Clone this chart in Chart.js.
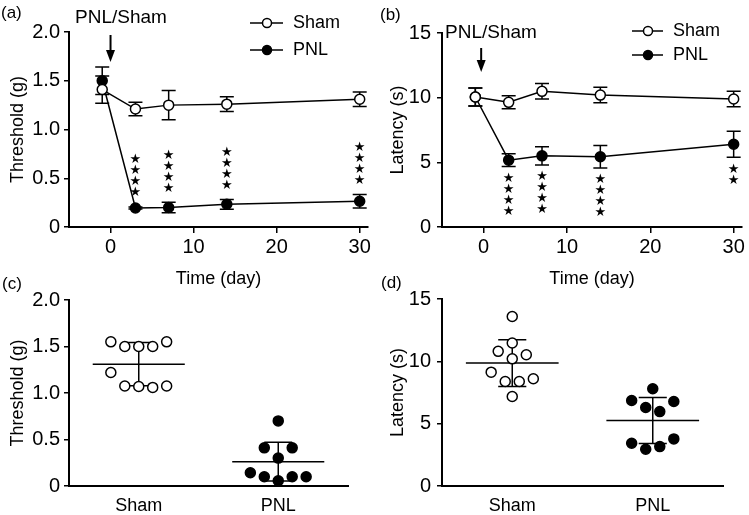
<!DOCTYPE html>
<html>
<head>
<meta charset="utf-8">
<script src="https://cdn.jsdelivr.net/npm/chart.js@4.4.1/dist/chart.umd.min.js"></script>
<style>
  body { margin: 0; background: #fff; width: 749px; height: 515px; position: relative; overflow: hidden; }
  canvas { position: absolute; }
</style>
</head>
<body>
<canvas id="chartA" style="left:0;top:0" width="375" height="290"></canvas>
<canvas id="chartB" style="left:375px;top:0" width="374" height="290"></canvas>
<canvas id="chartC" style="left:0;top:260px" width="375" height="255"></canvas>
<canvas id="chartD" style="left:375px;top:260px" width="374" height="255"></canvas>
<script>
// time course (a, b)
const days = [-1, 3, 7, 14, 30];
const dayTicks = [0, 10, 20, 30];
const thrSham = [1.41, 1.21, 1.25, 1.26, 1.31];
const thrShamErr = [0.14, 0.07, 0.15, 0.075, 0.074];
const thrPnl = [1.50, 0.195, 0.20, 0.233, 0.264];
const thrPnlErr = [0.14, 0.01, 0.055, 0.05, 0.07];
const thrStars = ['', '****', '****', '****', '****'];
const latSham = [10.05, 9.64, 10.49, 10.2, 9.9];
const latShamErr = [0.7, 0.5, 0.6, 0.6, 0.6];
const latPnl = [10.05, 5.17, 5.5, 5.43, 6.4];
const latPnlErr = [0.7, 0.5, 0.7, 0.87, 1.0];
const latStars = ['', '****', '****', '****', '**'];

// individual animals (c, d)
const groups = ['Sham', 'PNL'];
const cThrSham = [1.55, 1.50, 1.50, 1.50, 1.55, 1.22, 1.075, 1.07, 1.06, 1.075];
const cThrShamX = [-0.2, -0.1, 0, 0.1, 0.2, -0.2, -0.1, 0, 0.1, 0.2];
const cThrPnl = [0.70, 0.41, 0.30, 0.41, 0.143, 0.10, 0.057, 0.10, 0.10];
const cThrPnlX = [0, -0.1, 0, 0.1, -0.2, -0.1, 0, 0.1, 0.2];
const cThrMean = [1.31, 0.262];
const cThrSd = [0.233, 0.208];
const cLatSham = [13.6, 11.47, 10.8, 10.53, 10.2, 9.13, 8.38, 8.38, 8.6, 7.18];
const cLatShamX = [0, 0, -0.1, 0.1, 0, -0.15, -0.05, 0.05, 0.15, 0];
const cLatPnl = [7.8, 6.86, 6.78, 6.3, 5.97, 3.43, 3.78, 2.95, 3.16];
const cLatPnlX = [0, -0.15, 0.15, -0.05, 0.05, -0.15, 0.15, -0.05, 0.05];
const cLatMean = [9.86, 5.25];
const cLatSd = [1.88, 1.85];

const FONT = 'Liberation Sans, Arial, Helvetica, sans-serif';
Chart.defaults.font.family = FONT;
Chart.defaults.color = '#000';

const extrasPlugin = {
  id: 'extras',
  beforeDatasetsDraw(chart, args, o) {
    const { ctx, scales: { x, y } } = chart;
    ctx.save();
    ctx.strokeStyle = '#000';
    ctx.lineWidth = 1.5;
    (o.errors || []).forEach(e => {
      days.forEach((d, i) => {
        const px = x.getPixelForValue(d);
        const top = y.getPixelForValue(e.ys[i] + e.err[i]);
        const bot = y.getPixelForValue(e.ys[i] - e.err[i]);
        ctx.beginPath();
        ctx.moveTo(px, top); ctx.lineTo(px, bot);
        ctx.moveTo(px - 7, top); ctx.lineTo(px + 7, top);
        ctx.moveTo(px - 7, bot); ctx.lineTo(px + 7, bot);
        ctx.stroke();
      });
    });
    if (o.means) {
      o.means.forEach((m, g) => {
        const sd = o.sds[g];
        const yM = y.getPixelForValue(m);
        const yT = y.getPixelForValue(m + sd);
        const yB = y.getPixelForValue(m - sd);
        const px = x.getPixelForValue(g);
        ctx.beginPath();
        ctx.moveTo(x.getPixelForValue(g - 0.33), yM); ctx.lineTo(x.getPixelForValue(g + 0.33), yM);
        ctx.moveTo(px, yT); ctx.lineTo(px, yB);
        ctx.moveTo(x.getPixelForValue(g - 0.1), yT); ctx.lineTo(x.getPixelForValue(g + 0.1), yT);
        ctx.moveTo(x.getPixelForValue(g - 0.1), yB); ctx.lineTo(x.getPixelForValue(g + 0.1), yB);
        ctx.stroke();
      });
    }
    ctx.restore();
  },
  afterDraw(chart, args, o) {
    const { ctx, scales: { x, y } } = chart;
    ctx.save();
    ctx.fillStyle = '#000';
    ctx.strokeStyle = '#000';
    // panel letter
    ctx.font = '17px ' + FONT;
    ctx.textAlign = 'left';
    ctx.textBaseline = 'middle';
    ctx.fillText(o.panel.text, o.panel.x, o.panel.y);
    // arrow + label
    if (o.arrow) {
      const ax = x.getPixelForValue(o.arrow.day);
      ctx.lineWidth = 2;
      ctx.beginPath();
      ctx.moveTo(ax, o.arrow.y1); ctx.lineTo(ax, o.arrow.y2 - 8);
      ctx.stroke();
      ctx.beginPath();
      ctx.moveTo(ax - 4.5, o.arrow.y2 - 12);
      ctx.lineTo(ax + 4.5, o.arrow.y2 - 12);
      ctx.lineTo(ax, o.arrow.y2);
      ctx.closePath();
      ctx.fill();
      ctx.font = '19px ' + FONT;
      ctx.textAlign = 'center';
      ctx.fillText('PNL/Sham', o.arrow.tx, o.arrow.ty);
    }
    // significance stars
    if (o.stars) {
      ctx.font = '13px DejaVu Sans';
      ctx.textAlign = 'center';
      days.forEach((d, i) => {
        const n = o.stars.marks[i].length;
        if (!n) return;
        const px = x.getPixelForValue(d);
        const v = o.stars.ys[i];
        const e = o.stars.err[i];
        for (let k = 0; k < n; k++) {
          let py;
          if (o.stars.above) py = y.getPixelForValue(v + e) - 14 - k * 11;
          else py = y.getPixelForValue(v - e) + 12 + k * 11;
          ctx.fillText('\u2605', px, py);
        }
      });
    }
    // legend
    if (o.legend) {
      const L = o.legend;
      ctx.font = '18px ' + FONT;
      ctx.textAlign = 'left';
      L.items.forEach(it => {
        ctx.lineWidth = 1.5;
        ctx.beginPath();
        ctx.moveTo(L.x1, it.y); ctx.lineTo(L.x2, it.y);
        ctx.stroke();
        ctx.beginPath();
        ctx.arc(L.xm, it.y, 4.5, 0, Math.PI * 2);
        ctx.fillStyle = it.fill;
        ctx.fill();
        ctx.stroke();
        ctx.fillStyle = '#000';
        ctx.fillText(it.label, L.xt, it.y);
      });
    }
    ctx.restore();
  }
};

function axisStyle(extra) {
  return Object.assign({
    grid: { display: true, drawOnChartArea: false, drawTicks: true, tickLength: 6, color: '#000', lineWidth: 1.5 },
    border: { display: true, color: '#000', width: 2 }
  }, extra);
}

function timeChart(id, cfg) {
  return new Chart(document.getElementById(id), {
    type: 'line',
    data: {
      datasets: [
        {
          label: 'Sham',
          data: days.map((d, i) => ({ x: d, y: cfg.sham[i] })),
          borderColor: '#000', borderWidth: 1.5, tension: 0,
          pointRadius: 5, pointBackgroundColor: '#fff', pointBorderColor: '#000', pointBorderWidth: 1.5
        },
        {
          label: 'PNL',
          data: days.map((d, i) => ({ x: d, y: cfg.pnl[i] })),
          borderColor: '#000', borderWidth: 1.5, tension: 0,
          pointRadius: 5, pointBackgroundColor: '#000', pointBorderColor: '#000', pointBorderWidth: 1.5
        }
      ]
    },
    options: {
      responsive: false,
      animation: false,
      events: [],
      layout: { padding: { top: cfg.top, right: cfg.right, left: 0, bottom: 0 } },
      scales: {
        x: axisStyle({
          type: 'linear', min: -5, max: 31,
          afterBuildTicks: a => { a.ticks = dayTicks.map(v => ({ value: v })); },
          afterFit: s => { s.height = 290 - 227; },
          ticks: { font: { size: 20 }, padding: 2, maxRotation: 0 },
          title: { display: true, text: 'Time (day)', font: { size: 18 }, padding: { top: 0, bottom: 0 } }
        }),
        y: axisStyle({
          type: 'linear', min: 0, max: cfg.ymax,
          grid: { display: true, drawOnChartArea: false, drawTicks: true, tickLength: 5, color: '#000', lineWidth: 1.5 },
          afterBuildTicks: a => { a.ticks = cfg.yTicks.map(v => ({ value: v })); },
          afterFit: s => { s.width = cfg.left; },
          ticks: { font: { size: 20 }, padding: cfg.tickPad, callback: cfg.yFmt },
          title: { display: true, text: cfg.yTitle, font: { size: 18 }, padding: { top: cfg.titlePad, bottom: 0 } }
        })
      },
      plugins: {
        legend: { display: false },
        tooltip: { enabled: false },
        extras: {
          panel: cfg.panel,
          arrow: cfg.arrow,
          errors: [
            { ys: cfg.sham, err: cfg.shamErr },
            { ys: cfg.pnl, err: cfg.pnlErr }
          ],
          stars: { marks: cfg.stars, ys: cfg.pnl, err: cfg.pnlErr, above: cfg.starsAbove },
          legend: cfg.legend
        }
      }
    },
    plugins: [extrasPlugin]
  });
}

function dotChart(id, cfg) {
  return new Chart(document.getElementById(id), {
    type: 'scatter',
    data: {
      datasets: [
        {
          label: 'Sham',
          data: cfg.sham.map((v, i) => ({ x: 0 + cfg.shamX[i], y: v })),
          pointRadius: 5, pointBackgroundColor: '#fff', pointBorderColor: '#000', pointBorderWidth: 1.5
        },
        {
          label: 'PNL',
          data: cfg.pnl.map((v, i) => ({ x: 1 + cfg.pnlX[i], y: v })),
          pointRadius: 5, pointBackgroundColor: '#000', pointBorderColor: '#000', pointBorderWidth: 1.5
        }
      ]
    },
    options: {
      responsive: false,
      animation: false,
      events: [],
      layout: { padding: { top: cfg.top, right: cfg.right, left: 0, bottom: 0 } },
      scales: {
        x: axisStyle({
          type: 'linear', min: -0.5, max: 1.5,
          grid: { display: false, drawTicks: false },
          afterBuildTicks: a => { a.ticks = groups.map((g, i) => ({ value: i })); },
          afterFit: s => { s.height = 29; },
          ticks: { font: { size: 18 }, padding: 9, maxRotation: 0, callback: v => groups[v] }
        }),
        y: axisStyle({
          type: 'linear', min: 0, max: cfg.ymax,
          grid: { display: true, drawOnChartArea: false, drawTicks: true, tickLength: 5, color: '#000', lineWidth: 1.5 },
          afterBuildTicks: a => { a.ticks = cfg.yTicks.map(v => ({ value: v })); },
          afterFit: s => { s.width = cfg.left; },
          ticks: { font: { size: 20 }, padding: cfg.tickPad, callback: cfg.yFmt },
          title: { display: true, text: cfg.yTitle, font: { size: 18 }, padding: { top: cfg.titlePad, bottom: 0 } }
        })
      },
      plugins: {
        legend: { display: false },
        tooltip: { enabled: false },
        extras: { panel: cfg.panel, means: cfg.means, sds: cfg.sds }
      }
    },
    plugins: [extrasPlugin]
  });
}

const fmtDec = v => (v === 0 ? '0' : v.toFixed(1));
const fmtInt = v => String(v);

timeChart('chartA', {
  sham: thrSham, shamErr: thrShamErr, pnl: thrPnl, pnlErr: thrPnlErr, stars: thrStars, starsAbove: true,
  ymax: 2, yTicks: [0, 0.5, 1, 1.5, 2], yFmt: fmtDec, yTitle: 'Threshold (g)', titlePad: 7,
  top: 32, right: 7, left: 69, tickPad: 4,
  panel: { text: '(a)', x: 1, y: 13 },
  arrow: { day: 0, y1: 35, y2: 62, tx: 121, ty: 18 },
  legend: { x1: 250, x2: 283, xm: 267, xt: 293, items: [{ label: 'Sham', fill: '#fff', y: 23 }, { label: 'PNL', fill: '#000', y: 50 }] }
});

timeChart('chartB', {
  sham: latSham, shamErr: latShamErr, pnl: latPnl, pnlErr: latPnlErr, stars: latStars, starsAbove: false,
  ymax: 15, yTicks: [0, 5, 10, 15], yFmt: fmtInt, yTitle: 'Latency (s)', titlePad: 12,
  top: 33, right: 7, left: 67, tickPad: 6,
  panel: { text: '(b)', x: 5, y: 15 },
  arrow: { day: -0.3, y1: 48, y2: 72, tx: 116, ty: 33 },
  legend: { x1: 257, x2: 288, xm: 273, xt: 298, items: [{ label: 'Sham', fill: '#fff', y: 31 }, { label: 'PNL', fill: '#000', y: 55 }] }
});

dotChart('chartC', {
  sham: cThrSham, shamX: cThrShamX, pnl: cThrPnl, pnlX: cThrPnlX, means: cThrMean, sds: cThrSd,
  ymax: 2, yTicks: [0, 0.5, 1, 1.5, 2], yFmt: fmtDec, yTitle: 'Threshold (g)', titlePad: 7,
  top: 40, right: 27, left: 69, tickPad: 4,
  panel: { text: '(c)', x: 2, y: 24 }
});

dotChart('chartD', {
  sham: cLatSham, shamX: cLatShamX, pnl: cLatPnl, pnlX: cLatPnlX, means: cLatMean, sds: cLatSd,
  ymax: 15, yTicks: [0, 5, 10, 15], yFmt: fmtInt, yTitle: 'Latency (s)', titlePad: 12,
  top: 39, right: 26, left: 67, tickPad: 6,
  panel: { text: '(d)', x: 6, y: 23 }
});
</script>
</body>
</html>
